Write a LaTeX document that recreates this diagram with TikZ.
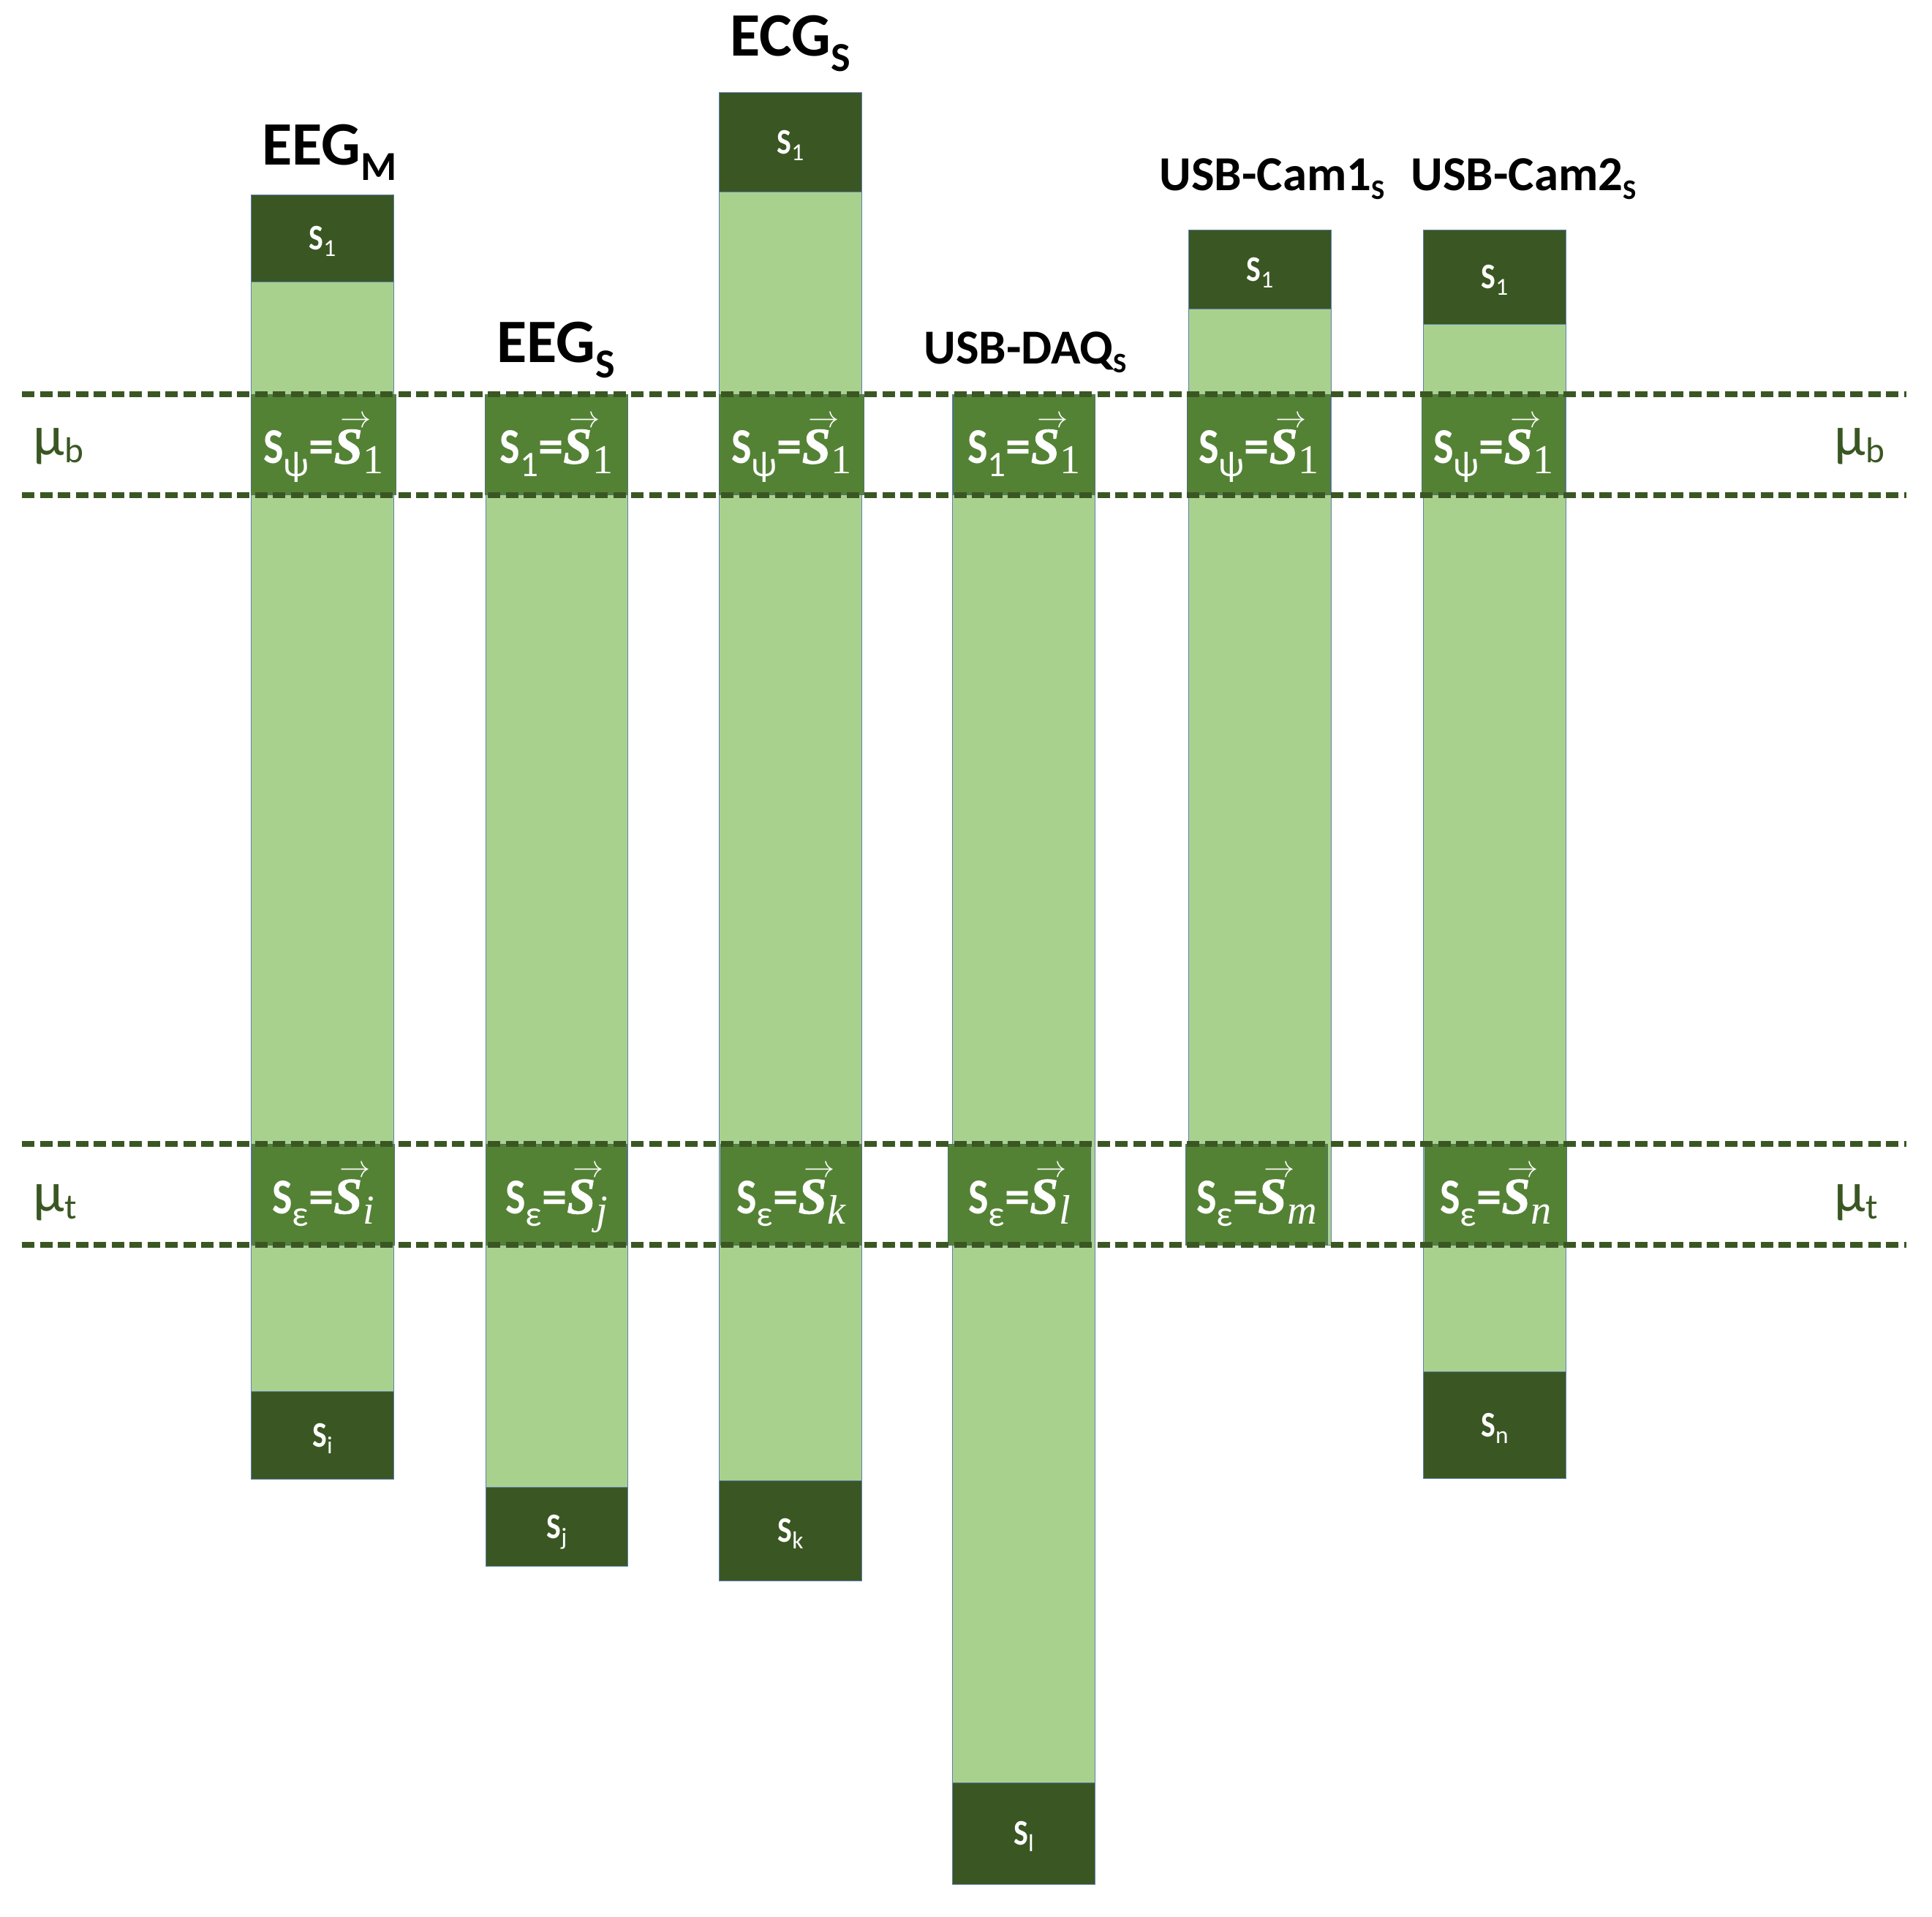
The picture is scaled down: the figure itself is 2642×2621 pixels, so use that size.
\documentclass[tikz,border=0pt]{standalone}
\usepackage{fontspec}
\usepackage{graphicx}
\setmainfont{Carlito}
\newfontfamily\serifm{Liberation Serif}
\newfontfamily\serifheavy[FakeBold=1.2]{Liberation Serif}
\definecolor{dkg}{HTML}{3A5723}
\definecolor{mdg}{HTML}{548235}
\definecolor{ltg}{HTML}{A9D18E}
\definecolor{edgeblue}{HTML}{5E7FAE}
\newcommand\lsub[3]{\raisebox{-#1}{\fontsize{#2}{#2}\selectfont #3}}
\newcommand\nS{\scalebox{0.85}[1]{S}}
\newcommand\vecS{\hbox{\fontsize{20}{24}\selectfont\serifheavy\bfseries\itshape\rlap{\kern2.4pt\raisebox{14pt}{\fontsize{11.5}{12}\selectfont$\rightarrow$}}S}}
\newcommand\frm[3]{{\fontsize{19.5}{22}\selectfont\bfseries \nS\lsub{5pt}{14}{\mdseries #1}=\vecS\kern0.3pt\lsub{4pt}{16}{\mdseries #2#3}}}
\newcommand\tiplab[1]{\scalebox{0.85}[1]{S}\lsub{2.5pt}{9.5}{\mdseries #1}}
\newcommand\blk[7]{%
  \pgfmathsetmacro\bw{(#4-#2)*0.01}%
  \pgfmathsetmacro\bh{(#5-#3)*0.01}%
  \node[#6, minimum width=\bw cm, minimum height=\bh cm, anchor=north west] (#1) at (#2,#3) {#7};}
\tikzset{
  lightcol/.style={fill=ltg, draw=edgeblue, line width=0.3pt, inner sep=0pt},
  darkend/.style={fill=dkg, draw=edgeblue, line width=0.3pt, inner sep=0pt, text=white,
    font=\fontsize{14}{16}\selectfont\bfseries, text height=9pt, text depth=0pt},
  midbox/.style={fill=mdg, draw=edgeblue!60!dkg, line width=0.3pt, inner sep=0pt, text=white,
    text height=16pt, text depth=1.4pt},
  sepline/.style={draw=dkg, line width=2.1pt, dash pattern=on 1.7mm off 0.75mm},
  titlebig/.style={anchor=base west, inner sep=0pt, text=black, font=\fontsize{24}{28}\selectfont\bfseries},
  titlesmall/.style={anchor=base west, inner sep=0pt, text=black, font=\fontsize{19}{23}\selectfont\bfseries},
  mulabel/.style={anchor=base west, inner sep=0pt, text=dkg, font=\fontsize{22}{26}\selectfont},
}
\begin{document}
\begin{tikzpicture}[x=0.01cm, y=-0.01cm]
\useasboundingbox (0,0) rectangle (2642,2621);
% light columns
\blk{c1}{343}{266}{538}{2022}{lightcol}{}
\blk{c2}{664}{539}{858}{2141}{lightcol}{}
\blk{c3}{983}{126}{1178}{2161}{lightcol}{}
\blk{c4}{1302}{539}{1497}{2576}{lightcol}{}
\blk{c5}{1625}{314}{1820}{1702}{lightcol}{}
\blk{c6}{1946}{314}{2141}{2021}{lightcol}{}
% dark ends
\blk{c1t}{343}{266}{538}{385}{darkend}{\tiplab{1}}
\blk{c1b}{343}{1902}{538}{2022}{darkend}{\tiplab{i}}
\blk{c2b}{664}{2033}{858}{2141}{darkend}{\tiplab{j}}
\blk{c3t}{983}{126}{1178}{262}{darkend}{\tiplab{1}}
\blk{c3b}{983}{2024}{1178}{2161}{darkend}{\tiplab{k}}
\blk{c4b}{1302}{2437}{1497}{2576}{darkend}{\tiplab{l}}
\blk{c5t}{1625}{314}{1820}{422}{darkend}{\tiplab{1}}
\blk{c6t}{1946}{314}{2141}{443}{darkend}{\tiplab{1}}
\blk{c6b}{1946}{1875}{2141}{2021}{darkend}{\tiplab{n}}
% mu_b boxes
\blk{b1}{343}{539}{541}{676}{midbox}{\frm{ψ}{\serifm}{1}}
\blk{b2}{663}{539}{858}{676}{midbox}{\frm{1}{\serifm}{1}}
\blk{b3}{983}{539}{1181}{676}{midbox}{\frm{ψ}{\serifm}{1}}
\blk{b4}{1303}{539}{1497}{676}{midbox}{\frm{1}{\serifm}{1}}
\blk{b5}{1623}{539}{1819}{676}{midbox}{\frm{ψ}{\serifm}{1}}
\blk{b6}{1944}{539}{2140}{676}{midbox}{\frm{ψ}{\serifm}{1}}
% mu_t boxes
\blk{t1}{344}{1564}{539}{1702}{midbox}{\frm{ε}{\serifm\itshape}{i}}
\blk{t2}{664}{1564}{857}{1702}{midbox}{\frm{ε}{\serifm\itshape}{j}}
\blk{t3}{985}{1564}{1178}{1702}{midbox}{\frm{ε}{\serifm\itshape}{k}}
\blk{t4}{1296}{1564}{1491}{1702}{midbox}{\frm{ε}{\serifm\itshape}{l}}
\blk{t5}{1621}{1564}{1815}{1702}{midbox}{\frm{ε}{\serifm\itshape}{m}}
\blk{t6}{1948}{1564}{2142}{1702}{midbox}{\frm{ε}{\serifm\itshape}{n}}
% dashed separators
\coordinate (l1) at (30,539);  \coordinate (r1) at (2607,539);
\coordinate (l2) at (30,677);  \coordinate (r2) at (2607,677);
\coordinate (l3) at (30,1564); \coordinate (r3) at (2607,1564);
\coordinate (l4) at (30,1702); \coordinate (r4) at (2607,1702);
\draw[sepline] (l1) -- (r1);
\draw[sepline] (l2) -- (r2);
\draw[sepline] (l3) -- (r3);
\draw[sepline] (l4) -- (r4);
% titles
\node[titlebig] (h1) at (358,225) {EEG\lsub{6pt}{16}{M}};
\node[titlebig] (h2) at (679,495) {EEG\lsub{6pt}{16}{S}};
\node[titlebig] (h3) at (998,76) {ECG\lsub{6pt}{16}{S}};
\node[titlesmall] (h4) at (1263,497) {USB-DAQ\lsub{3.5pt}{11}{S}};
\node[titlesmall] (h5) at (1585,260) {USB-Cam1\lsub{3.5pt}{11}{S}};
\node[titlesmall] (h6) at (1929,260) {USB-Cam2\lsub{3.5pt}{11}{S}};
% mu labels
\node[mulabel] (mb1) at (45,622) {μ\lsub{3pt}{14}{b}};
\node[mulabel] (mb2) at (2508,622) {μ\lsub{3pt}{14}{b}};
\node[mulabel] (mt1) at (45,1656) {μ\lsub{3pt}{14}{t}};
\node[mulabel] (mt2) at (2508,1656) {μ\lsub{3pt}{14}{t}};
\end{tikzpicture}
\end{document}
